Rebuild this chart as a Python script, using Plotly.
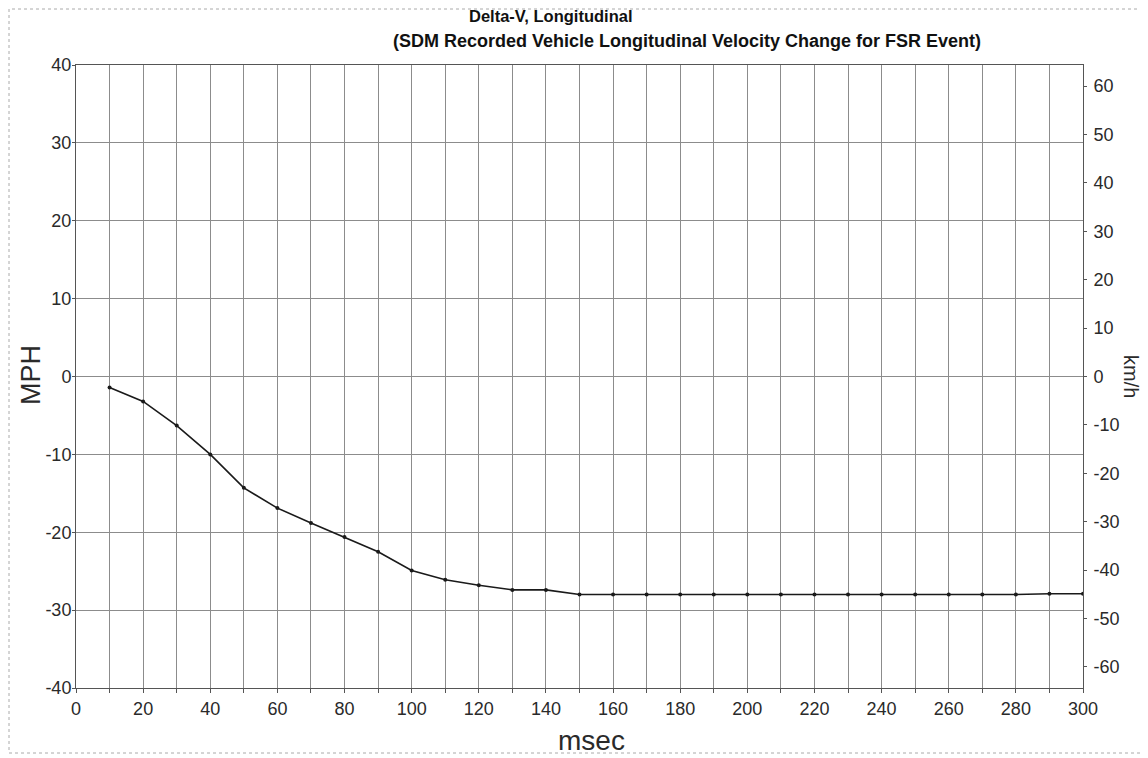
import plotly.graph_objects as go

# ---- data ----
msec = [10, 20, 30, 40, 50, 60, 70, 80, 90, 100, 110, 120, 130, 140, 150,
        160, 170, 180, 190, 200, 210, 220, 230, 240, 250, 260, 270, 280, 290, 300]
delta_v_mph = [-1.4, -3.2, -6.3, -10.0, -14.3, -16.9, -18.8, -20.6, -22.5, -24.9,
               -26.1, -26.8, -27.4, -27.4, -28.0,
               -28.0, -28.0, -28.0, -28.0, -28.0, -28.0, -28.0, -28.0, -28.0, -28.0,
               -28.0, -28.0, -28.0, -27.9, -27.9]
x_tickvals = list(range(0, 301, 10))
x_ticktext = [str(v) if v % 20 == 0 else "" for v in x_tickvals]
mph_ticks = [-40, -30, -20, -10, 0, 10, 20, 30, 40]
mph_labels = ["-40", "-30", "-20", "-10", "0", "10", "20", "30", "40"]
kmh_ticks = [-60, -50, -40, -30, -20, -10, 0, 10, 20, 30, 40, 50, 60]
kmh_labels = ["-60", "-50", "-40", "-30", "-20", "-10", "0", "10", "20", "30", "40", "50", "60"]
MPH_TO_KMH = 1.609344
title_line1 = "Delta-V, Longitudinal"
title_line2 = "(SDM Recorded Vehicle Longitudinal Velocity Change for FSR Event)"

# page body has an 8px margin, so compensate
OFF = 8
W, H = 1148 - OFF, 758 - OFF
L, R, T, B = 76 - OFF, 1083 - OFF, 65 - OFF, 688 - OFF
def px(x): return (x - OFF - L) / (R - L)
def py(y): return (B - (y - OFF)) / (B - T)

FONT = "Liberation Sans, Arial, sans-serif"
GRID = "#8c8c8c"
TXT = "#2a2a2a"

fig = go.Figure()
fig.add_trace(go.Scatter(
    x=msec, y=delta_v_mph, mode="lines+markers",
    line=dict(color="#1a1a1a", width=1.6),
    marker=dict(color="#1a1a1a", size=4),
    showlegend=False, yaxis="y"))
fig.add_trace(go.Scatter(x=[0], y=[0], yaxis="y2", mode="markers",
                         marker=dict(opacity=0), showlegend=False, hoverinfo="skip"))

fig.update_layout(
    width=W, height=H,
    margin=dict(l=L, r=W - R, t=T, b=H - B, autoexpand=False),
    paper_bgcolor="white", plot_bgcolor="white",
    font=dict(family=FONT, color=TXT, size=16),
    xaxis=dict(range=[0, 300], tickvals=x_tickvals, ticktext=x_ticktext,
               showgrid=True, gridcolor=GRID, gridwidth=1,
               showline=True, linecolor="#555", linewidth=1, mirror=True,
               ticks="outside", ticklen=4, tickcolor="#555",
               tickfont=dict(size=18, color=TXT), zeroline=False),
    yaxis=dict(range=[-40, 40], tickvals=mph_ticks, ticktext=mph_labels,
               showgrid=True, gridcolor=GRID, gridwidth=1,
               showline=True, linecolor="#555", linewidth=1,
               ticks="outside", ticklen=3, tickcolor="#555",
               tickfont=dict(size=18, color=TXT), zeroline=False,
               ticklabelstandoff=-3),
    yaxis2=dict(range=[-40 * MPH_TO_KMH, 40 * MPH_TO_KMH], tickvals=kmh_ticks,
                ticktext=kmh_labels,
                overlaying="y", side="right", showgrid=False, zeroline=False,
                showline=True, linecolor="#555", linewidth=1,
                ticks="outside", ticklen=3, tickcolor="#555",
                tickfont=dict(size=18, color=TXT), ticklabelstandoff=3),
)

def ann(text, x, y, size, angle=0, color=TXT):
    fig.add_annotation(text=text, x=px(x), y=py(y), xref="paper", yref="paper",
                       xanchor="center", yanchor="middle", showarrow=False,
                       textangle=angle, font=dict(size=size, color=color, family=FONT))

ann("<b>" + title_line1 + "</b>", 550, 16, 16.5, color="#111")
ann("<b>" + title_line2 + "</b>", 687, 41, 18, color="#111")
ann("MPH", 31, 375, 27, angle=-90)
ann("msec", 591, 740, 28)
ann("km/h", 1131, 376, 20, angle=90)

# outer frame
fig.add_shape(type="rect", xref="paper", yref="paper",
              x0=px(9), x1=px(1146), y0=py(753), y1=py(9),
              line=dict(color="#aaa", width=1, dash="dot"), layer="below")

fig.write_html("out.html")
